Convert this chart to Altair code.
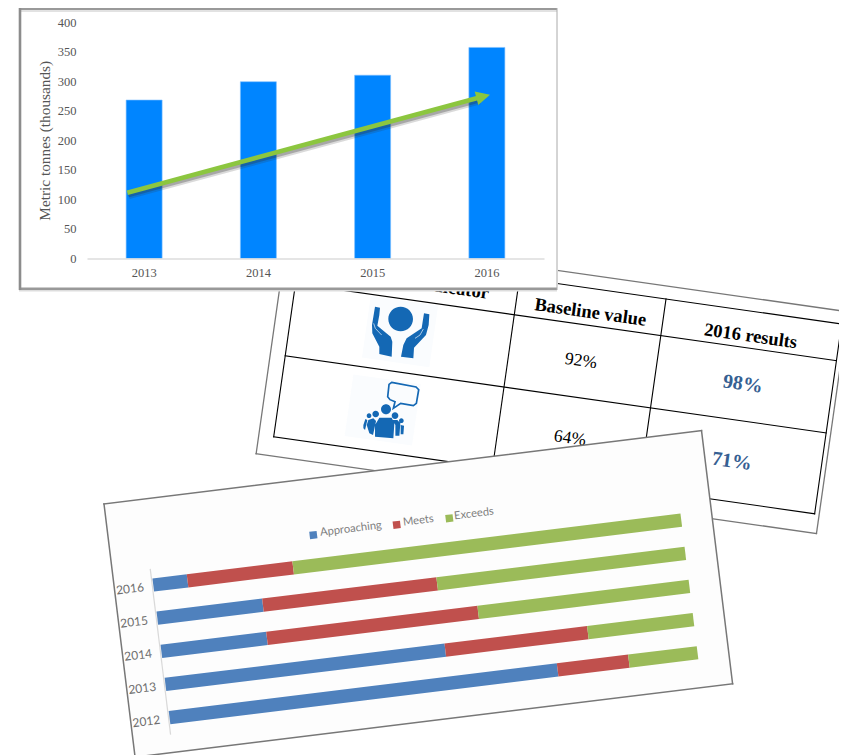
import math
import altair as alt
import pandas as pd

# ---------- data ----------
tonnage_years = ["2013", "2014", "2015", "2016"]
tonnage_values = [268, 299, 310, 357]

stack_years = ["2016", "2015", "2014", "2013", "2012"]
approaching = [6.5, 20, 20, 53, 73.5]
meets = [20, 33, 40, 27, 13.5]
exceeds = [73.5, 47, 40, 20, 13]
series_names = ["Approaching", "Meets", "Exceeds"]
series_colors = ["#4F81BD", "#C0504D", "#9BBB59"]

table_headers = ["Indicator", "Baseline value", "2016 results"]
baseline_values = ["92%", "64%"]
result_values = ["98%", "71%"]

SERIF = "Liberation Serif"
SANS = "Lato"

# ---------- page-pixel scales for the tilted sheets ----------
PW, PH = 831, 747
PX = alt.Scale(domain=[8, 8 + PW], range=[0, PW], nice=False, zero=False)
PY = alt.Scale(domain=[8, 8 + PH], range=[0, PH], nice=False, zero=False)


def frame(ox, oy, deg):
    c, s = math.cos(math.radians(deg)), math.sin(math.radians(deg))
    return lambda u, v: (ox + u * c - v * s, oy + u * s + v * c)


def segs(rows):
    return pd.DataFrame(rows, columns=["x", "y", "x2", "y2"])


def seg(f, u1, v1, u2, v2):
    return (*f(u1, v1), *f(u2, v2))


def rules(rows, **mark):
    mark.setdefault("strokeCap", "butt")
    return alt.Chart(segs(rows)).mark_rule(**mark).encode(
        x=alt.X("x:Q", scale=PX, axis=None),
        y=alt.Y("y:Q", scale=PY, axis=None),
        x2="x2:Q",
        y2="y2:Q",
    )


def sheet(f, u0, v0, u1, v1, fill, edge, width):
    mid = (v0 + v1) / 2
    return [
        rules([seg(f, u0, mid, u1, mid)], stroke=fill, strokeWidth=v1 - v0),
        rules(
            [
                seg(f, u0, v0, u1, v0),
                seg(f, u1, v0, u1, v1),
                seg(f, u1, v1, u0, v1),
                seg(f, u0, v1, u0, v0),
            ],
            stroke=edge,
            strokeWidth=width,
            strokeCap="square",
        ),
    ]


def label(f, u, v, text, **mark):
    x, y = f(u, v)
    return alt.Chart(pd.DataFrame({"x": [x], "y": [y], "t": [text]})).mark_text(
        align="center", baseline="middle", **mark
    ).encode(
        x=alt.X("x:Q", scale=PX, axis=None),
        y=alt.Y("y:Q", scale=PY, axis=None),
        text="t:N",
    )


def symbol(x, y, shape, size, **mark):
    return alt.Chart(pd.DataFrame({"x": [x], "y": [y]})).mark_point(
        shape=shape, size=size, **mark
    ).encode(
        x=alt.X("x:Q", scale=PX, axis=None),
        y=alt.Y("y:Q", scale=PY, axis=None),
    )


def poly(pts, cx, cy, k=96.0, close=True):
    d = "M" + "L".join(f"{(x - cx) / k:.3f},{(y - cy) / k:.3f}" for x, y in pts)
    return d + ("Z" if close else "")


def disc(x, y, r, cx, cy, k=96.0):
    a, b, q = (x - cx - r) / k, (y - cy) / k, r / k
    return f"M{a:.3f},{b:.3f}a{q:.3f},{q:.3f} 0 1,0 {2*q:.3f},0a{q:.3f},{q:.3f} 0 1,0 {-2*q:.3f},0Z"


layers = []

# ---------- table sheet ----------
T_DEG = 8.1
T = frame(300.7, 247, T_DEG)
W, H = 546.4, 191.7
layers += sheet(T, -15, -13, 551, 211, "#ffffff", "#777777", 1.3)
layers.append(
    rules(
        [
            seg(T, 0, 0, W, 0),
            seg(T, 0, 37, W, 37),
            seg(T, 0, 110, W, 110),
            seg(T, 0, H, W, H),
            seg(T, 0, 0, 0, H),
            seg(T, 221, 0, 221, H),
            seg(T, 369, 0, 369, H),
            seg(T, W, 0, W, H),
        ],
        stroke="#000000",
        strokeWidth=1.1,
        strokeCap="square",
    )
)
head_font = dict(font=SERIF, fontSize=18.5, fontWeight="bold", color="#000000", angle=T_DEG)
layers.append(label(T, 156, 19, table_headers[0], **head_font))
layers.append(label(T, 296, 23.5, table_headers[1], **head_font))
layers.append(label(T, 458, 24.5, table_headers[2], **head_font))
for v, b, r in zip([73.4, 151.5], baseline_values, result_values):
    layers.append(label(T, 293.5, v, b, font=SERIF, fontSize=17.5, color="#000000", angle=T_DEG))
    layers.append(
        label(T, 457, v, r, font=SERIF, fontSize=20, fontWeight="bold", color="#366092", angle=T_DEG)
    )

# icons: soft backing square, then glyph
ICON_BLUE = "#1468B4"
for (cx, cy) in [(400, 331.7), (382.7, 410)]:
    a = (cx - 34 * math.cos(math.radians(T_DEG)), cy - 34 * math.sin(math.radians(T_DEG)))
    b = (cx + 34 * math.cos(math.radians(T_DEG)), cy + 34 * math.sin(math.radians(T_DEG)))
    layers.append(rules([(*a, *b)], stroke="#fafcfe", strokeWidth=62))

HC = (180, 110)
hands = (
    disc(182, 72, 37, *HC)
    + poly([(105, 35), (120, 38), (118, 60), (112, 92), (152, 125), (157, 140), (155, 185),
            (118, 177), (118, 155), (97, 115), (96, 90)], *HC)
    + poly([(252, 55), (268, 58), (266, 90), (258, 120), (222, 158), (220, 190), (183, 185),
            (190, 150), (200, 130), (245, 100), (248, 80)], *HC)
)
layers.append(symbol(400, 331.7, hands, 4096, filled=True, color=ICON_BLUE, opacity=1, strokeWidth=0))
for pts in ([(101, 85), (106, 100), (125, 120)], [(225, 130), (240, 120), (250, 102)]):
    layers.append(
        symbol(400, 331.7, poly(pts, *HC, close=False), 4096, filled=False, color="#cfe1f2",
               opacity=1, strokeWidth=0.8)
    )

PC = (128, 105)
people = (
    disc(138, 103, 15, *PC)
    + poly([(118, 128), (155, 128), (163, 145), (160, 190), (105, 185), (105, 150)], *PC)
    + disc(107, 117, 10, *PC)
    + poly([(85, 135), (100, 130), (108, 138), (99, 180), (88, 175), (80, 150)], *PC)
    + disc(87, 122, 7, *PC)
    + poly([(70, 150), (76, 132), (82, 135), (75, 165), (70, 160)], *PC)
    + disc(165, 122, 10, *PC)
    + poly([(158, 135), (172, 135), (181, 145), (178, 182), (166, 182), (166, 150)], *PC)
    + disc(184, 137, 7, *PC)
    + poly([(182, 150), (192, 152), (190, 178), (182, 178)], *PC)
)
layers.append(symbol(382.7, 410, people, 4096, filled=True, color=ICON_BLUE, opacity=1, strokeWidth=0))
bubble = poly(
    [(155, 22), (228, 36), (236, 44), (229, 85), (220, 92), (182, 85), (160, 100), (165, 80),
     (150, 74), (143, 65), (147, 28)],
    *PC,
)
layers.append(symbol(382.7, 410, bubble, 4096, filled=False, color=ICON_BLUE, opacity=1, strokeWidth=1.7))

# ---------- stacked-bar sheet ----------
S_DEG = -7.0
S = frame(104, 504, S_DEG)
layers += sheet(S, 0, 0, 602, 255, "#fdfdfd", "#777777", 1.5)
layers.append(rules([seg(S, 38, 70, 38, 237)], stroke="#d9d9d9", strokeWidth=1.2))

BAR_U0, BAR_LEN = 39.0, 532.0
ROW_V = [86.4, 119.8, 153.2, 186.6, 220.0]
stack_rows = []
for yr, v, a, m, e in zip(stack_years, ROW_V, approaching, meets, exceeds):
    start = 0.0
    for name, val in zip(series_names, [a, m, e]):
        x, y = S(BAR_U0 + BAR_LEN * start / 100, v)
        x2, y2 = S(BAR_U0 + BAR_LEN * (start + val) / 100, v)
        stack_rows.append(dict(year=yr, series=name, x=x, y=y, x2=x2, y2=y2))
        start += val
SERIES_SCALE = alt.Scale(domain=series_names, range=series_colors)
layers.append(
    alt.Chart(pd.DataFrame(stack_rows)).mark_rule(strokeWidth=13.3, strokeCap="butt").encode(
        x=alt.X("x:Q", scale=PX, axis=None),
        y=alt.Y("y:Q", scale=PY, axis=None),
        x2="x2:Q",
        y2="y2:Q",
        color=alt.Color("series:N", scale=SERIES_SCALE, legend=None),
    )
)
for yr, v in zip(stack_years, ROW_V):
    layers.append(label(S, 15.5, v + 1, yr, font=SANS, fontSize=12, color="#6e6e6e", angle=353))

for name, col, su, tu in zip(series_names, series_colors, [204, 288, 341], [242, 310, 366]):
    sx, sy = S(su, 56.3)
    layers.append(symbol(sx, sy, "square", 55, filled=True, color=col, opacity=1, strokeWidth=0, angle=353))
    layers.append(label(S, tu, 55, name, font=SANS, fontSize=11.2, color="#7f7f7f", angle=353))

# ---------- upright column chart sheet ----------
layers.append(rules([(19, 149, 558, 149)], stroke="#ffffff", strokeWidth=282))
layers.append(rules([(19, 290.5, 557, 290.5)], stroke="#dddddd", strokeWidth=2))
layers.append(rules([(20, 11, 557, 11)], stroke="#e2e2e2", strokeWidth=2))
layers.append(rules([(19, 9, 557, 9)], stroke="#999999", strokeWidth=2))
layers.append(rules([(19, 288.8, 557, 288.8)], stroke="#999999", strokeWidth=2.4))
layers.append(rules([(20, 8, 20, 290)], stroke="#8c8c8c", strokeWidth=2.6))
layers.append(rules([(557, 8, 557, 290)], stroke="#aaaaaa", strokeWidth=1))

AXIS_GREY = "#555555"
columns = alt.Chart(
    pd.DataFrame({"year": tonnage_years, "tonnes": tonnage_values})
).mark_bar(color="#0085FF", stroke="#7dbfff", strokeWidth=0.6).encode(
    x=alt.X(
        "year:N",
        sort=tonnage_years,
        scale=alt.Scale(domain=tonnage_years, range=[79, 536], paddingInner=0.685, paddingOuter=0.3425),
        axis=alt.Axis(
            title=None, orient="bottom", offset=-496.5, ticks=False, labelAngle=0, labelPadding=8,
            labelFont=SERIF, labelFontSize=12.5, labelColor=AXIS_GREY,
            domainColor="#dddddd", domainWidth=1.5, grid=False, zindex=1,
        ),
    ),
    y=alt.Y(
        "tonnes:Q",
        scale=alt.Scale(domain=[0, 400], range=[250.5, 14], nice=False, zero=True),
        axis=alt.Axis(
            title="Metric tonnes (thousands)", orient="left", offset=-71, values=list(range(0, 401, 50)),
            ticks=False, domain=False, grid=False, labelPadding=3, labelFont=SERIF, labelFontSize=12.5,
            labelColor=AXIS_GREY, titleFont=SERIF, titleFontSize=15.3, titleFontWeight="normal",
            titleColor=AXIS_GREY, titlePadding=4.5, zindex=1,
        ),
    ),
)
layers.append(columns)

# trend arrow
ax0, ay0, ax1, ay1 = 127.3, 192.7, 490.0, 94.7
adeg = math.degrees(math.atan2(ay1 - ay0, ax1 - ax0))
c, s = math.cos(math.radians(adeg)), math.sin(math.radians(adeg))
sx_end, sy_end = ax1 - 12 * c, ay1 - 12 * s
layers.append(rules([(ax0 + 1.5, ay0 + 3.5, sx_end + 1.5, sy_end + 3.5)], stroke="#333333", strokeWidth=6, opacity=0.18))
layers.append(rules([(ax0 + 1, ay0 + 2.5, sx_end + 1, sy_end + 2.5)], stroke="#333333", strokeWidth=4.5, opacity=0.3))
layers.append(rules([(ax0, ay0, sx_end, sy_end)], stroke="#8CC63F", strokeWidth=4.6))
layers.append(
    symbol(ax1 - 7 * c, ay1 - 7 * s, "M-1,-1L1,0L-1,1Z", 196, filled=True, color="#8CC63F", opacity=1,
           strokeWidth=0, angle=360 + adeg)
)

chart = (
    alt.layer(*layers)
    .resolve_scale(x="independent", y="independent", color="independent")
    .properties(width=PW, height=PH, padding=0, autosize=alt.AutoSizeParams(type="none"), background="#ffffff")
    .configure_view(stroke=None)
)
chart.save("out.html", embed_options={"renderer": "svg", "actions": False})
